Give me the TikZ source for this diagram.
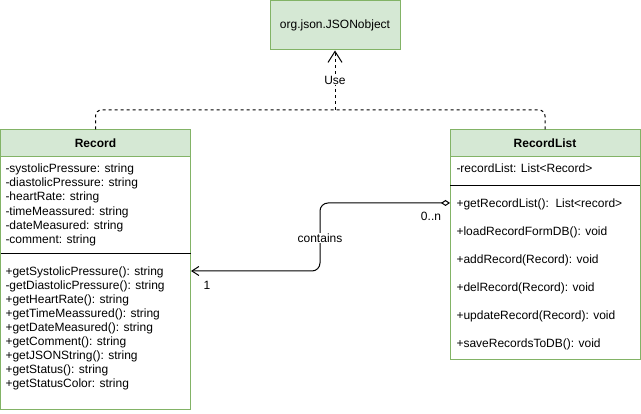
\documentclass[tikz,border=0pt]{standalone}
\usepackage{fontspec}
\setmainfont{Liberation Sans}
\usetikzlibrary{arrows.meta}
\definecolor{hdfill}{HTML}{D5E8D4}
\definecolor{hdline}{HTML}{82B366}
\begin{document}
\begin{tikzpicture}[x=1pt, y=-1pt, line width=1pt, font=\fontsize{12}{14}\selectfont]
\tikzstyle{every node}=[inner sep=0pt]
\tikzstyle{head}=[draw=hdline, fill=hdfill, minimum width=190pt, minimum height=27pt, font=\fontsize{12}{14}\selectfont\bfseries]
\tikzstyle{body}=[draw=hdline, fill=white, minimum width=190pt]
\tikzstyle{item}=[anchor=west, text height=9pt, text depth=2.5pt]
\tikzstyle{lbl}=[fill=white, inner sep=1pt]
\useasboundingbox (0,0) rectangle (641,414);

\node(js)[draw=hdline, fill=hdfill, minimum width=130pt, minimum height=49pt] at (335,25.5) {org.json.JSONobject};

% Record
\node(rb)[body, minimum height=253pt] at (95.5,283.5) {};
\node(rh)[head] at (95.5,143.5) {Record};
\foreach \t [count=\i from 0] in {-systolicPressure: string, -diastolicPressure: string,
  -heartRate: string, -timeMeassured: string, -dateMeasured: string, -comment: string}
  \node[item] at (5,{169.5+14.1*\i}) {\t};
\draw (0.5,254) -- (190.5,254);
\foreach \t [count=\i from 0] in {+getSystolicPressure(): string, -getDiastolicPressure(): string,
  +getHeartRate(): string, +getTimeMeassured(): string, +getDateMeasured(): string,
  +getComment(): string, +getJSONString(): string, +getStatus(): string, +getStatusColor: string}
  \node[item] at (5,{272+14*\i}) {\t};

% RecordList
\node(lb)[body, minimum height=203pt] at (545,258.5) {};
\node(lh)[head] at (545,143.5) {RecordList};
\node[item] at (456,169.5) {-recordList: List<Record>};
\draw (450,186) -- (640,186);
\foreach \t [count=\i from 0] in {+getRecordList():\ \ List<record>, +loadRecordFormDB(): void,
  +addRecord(Record): void, +delRecord(Record): void, +updateRecord(Record): void,
  +saveRecordsToDB(): void}
  \node[item] at (456,{204+28*\i}) {\t};

% dependency
\coordinate (jt) at (335,110);
\draw[dashed, rounded corners=6pt] (rh.north) |- (jt) -| (lh.north);
\draw[dashed, -{Straight Barb[length=11pt,width=14pt]}] (jt) -- (js.south);
\node[lbl] at (335,80) {Use};

% aggregation
\coordinate (lin) at (450,203);
\coordinate (rin) at (191,271);
\draw[rounded corners=8pt, {Diamond[open,length=9pt,width=6pt]}-{Straight Barb[length=7pt,width=9pt]}]
  (lin) -| (320,237) |- (rin);
\node[lbl] at (320,238) {contains};
\node at (431,216) {0..n};
\node at (207,285) {1};

\end{tikzpicture}
\end{document}
